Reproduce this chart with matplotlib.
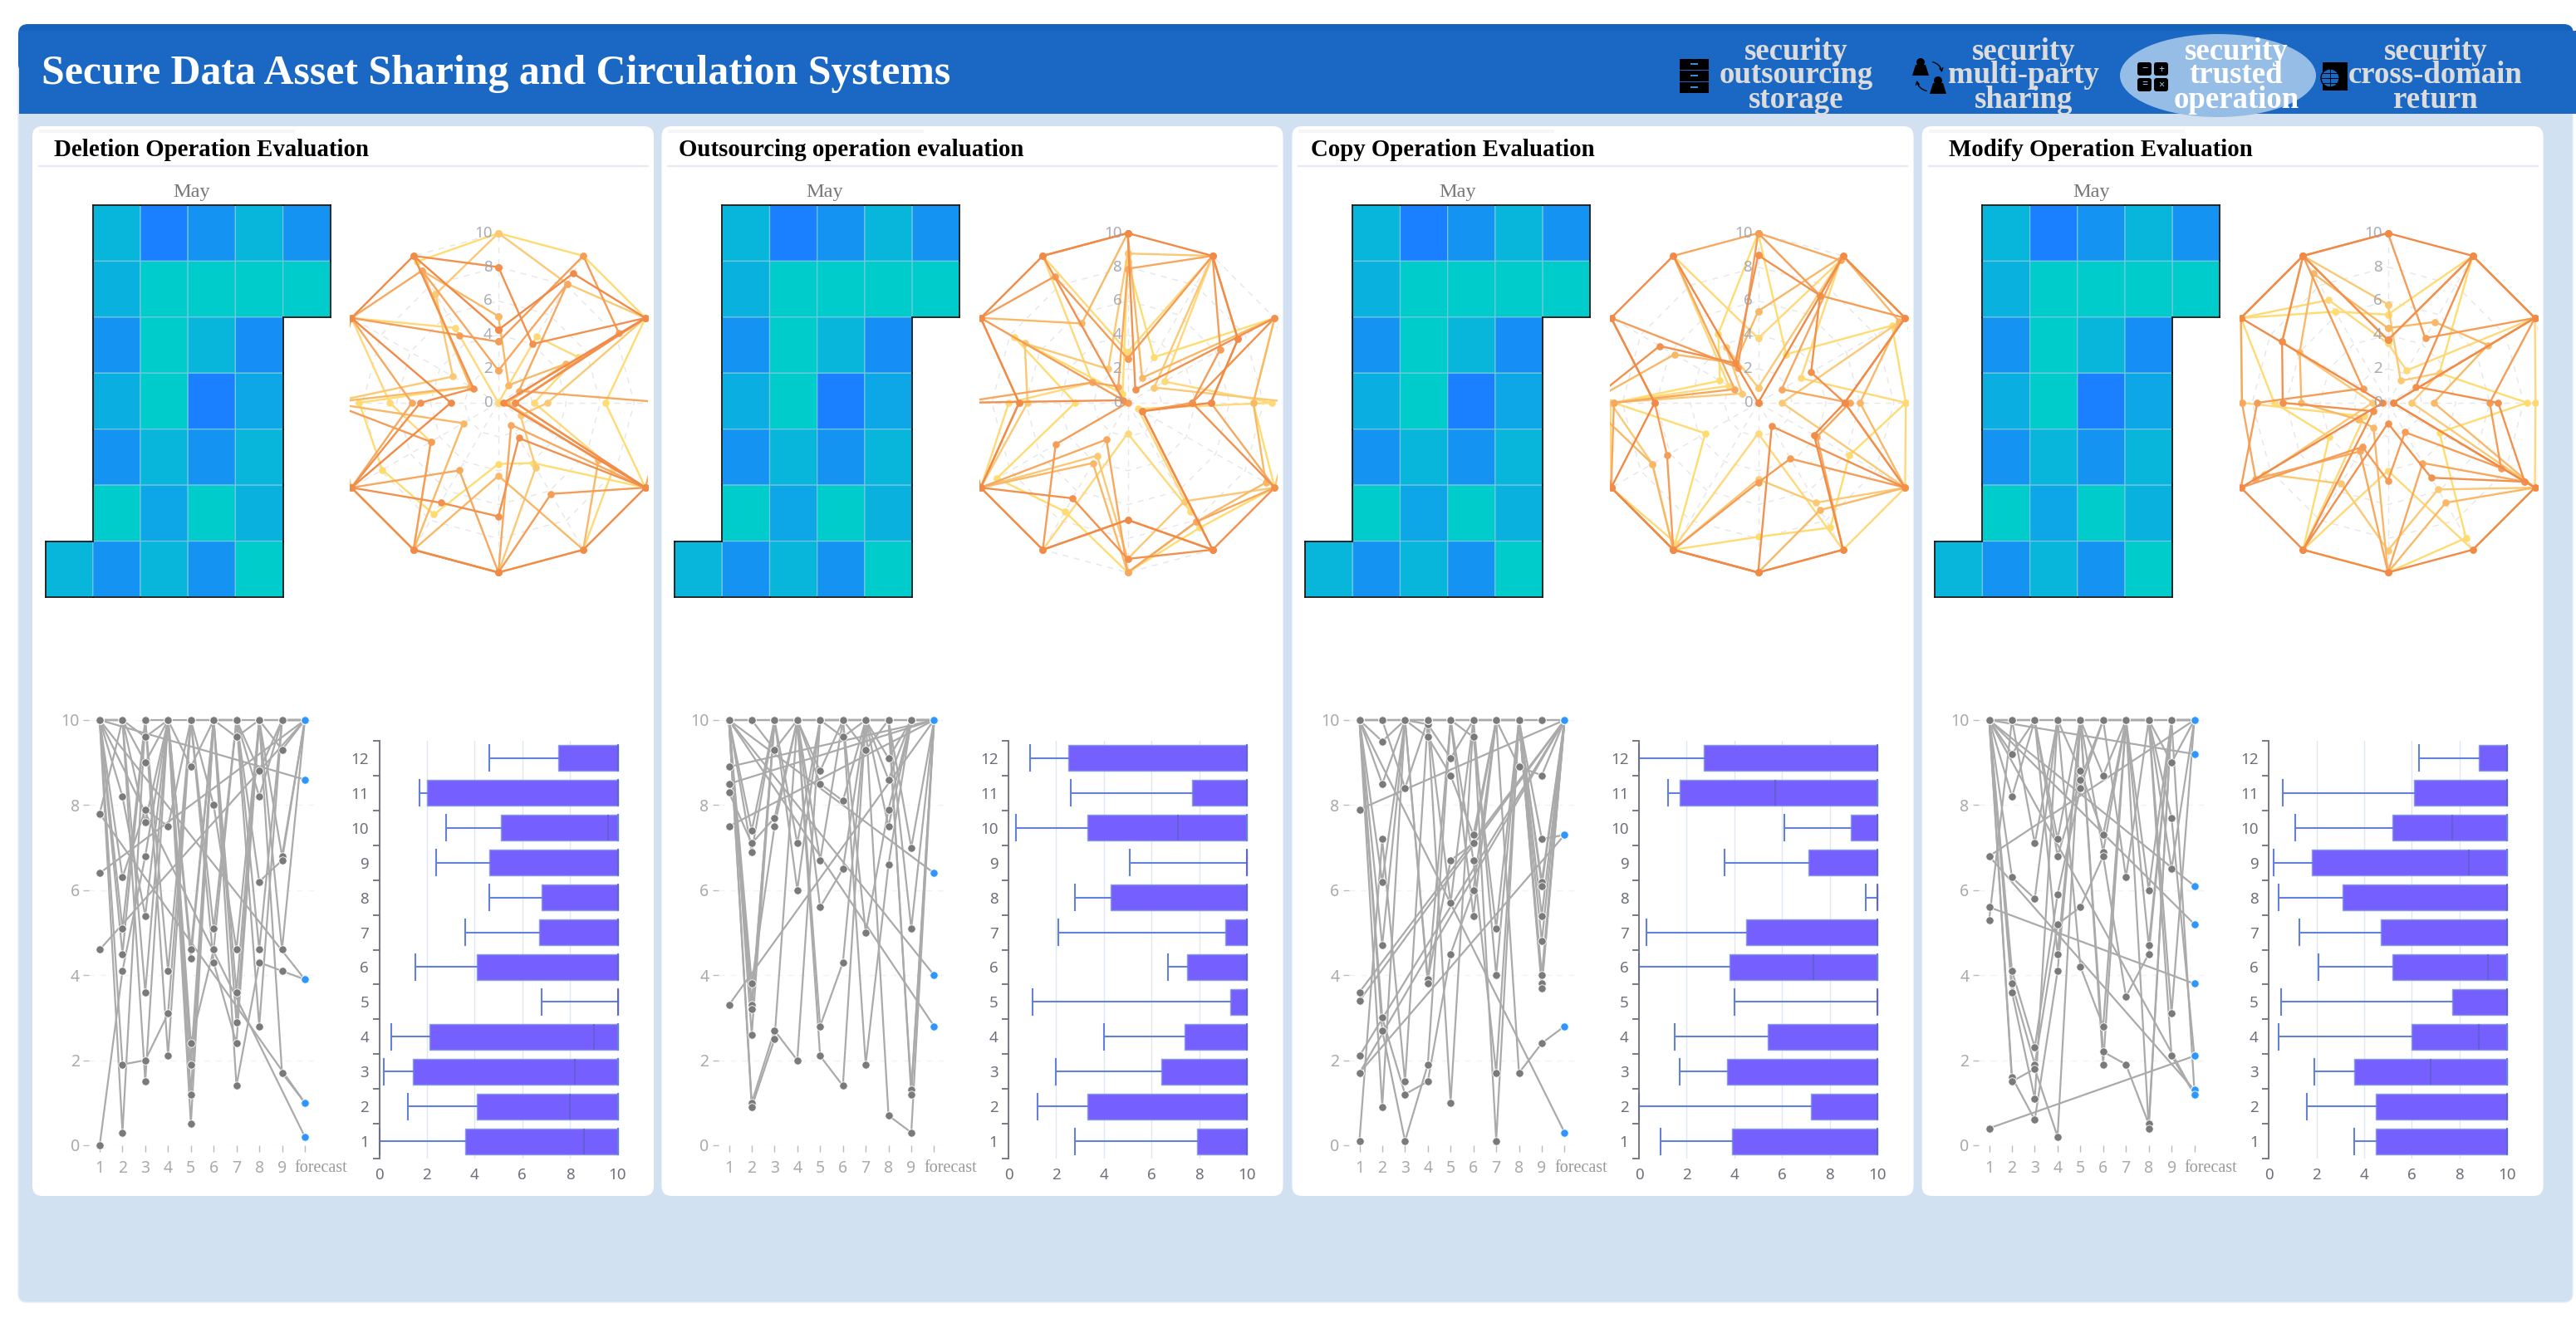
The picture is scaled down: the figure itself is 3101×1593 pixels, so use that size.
from __future__ import annotations

import matplotlib

matplotlib.use("Agg")
import matplotlib.pyplot as plt
import numpy as np
from matplotlib.colors import LinearSegmentedColormap
from matplotlib.patches import Circle, Ellipse, FancyArrowPatch, FancyBboxPatch, Polygon, Rectangle

W, H = 3101, 1593
SERIF = "Liberation Serif"
SANS = "Noto Sans"

TITLE = "Secure Data Asset Sharing and Circulation Systems"
NAV_LABELS = [
    ["security", "outsourcing", "storage"],
    ["security", "multi-party", "sharing"],
    ["security", "trusted", "operation"],
    ["security", "cross-domain", "return"],
]
PANEL_TITLES = [
    "Deletion Operation Evaluation",
    "Outsourcing operation evaluation",
    "Copy Operation Evaluation",
    "Modify Operation Evaluation",
]
MONTH = "May"
X_LABELS = ["1", "2", "3", "4", "5", "6", "7", "8", "9", "forecast"]
BOX_CATS = list(range(1, 13))

# calendar heat map, same in all four panels (0 = teal, 1 = blue)
nan = float("nan")
HEAT = [
    [nan, 0.30, 1.00, 0.75, 0.30, 0.75],
    [nan, 0.35, 0.00, 0.00, 0.00, 0.00],
    [nan, 0.75, 0.00, 0.30, 0.80, nan],
    [nan, 0.40, 0.00, 1.00, 0.50, nan],
    [nan, 0.75, 0.30, 0.75, 0.30, nan],
    [nan, 0.00, 0.50, 0.00, 0.35, nan],
    [0.30, 0.75, 0.30, 0.75, 0.00, nan],
]

# radar series, twelve axes clockwise from the top
RADAR_1 = [
    [10, 10, 10, 6.3, 10, 4.1, 3.6, 7.6, 7.9, 8.2, 1.9, 9.6],
    [0, 4.5, 5.4, 2.1, 7.8, 10, 10, 10, 4.6, 6.4, 10, 5.1],
    [10, 8.1, 10, 2.9, 1.5, 4.4, 10, 10, 10, 10, 3.1, 7.4],
    [5.1, 1.2, 4.6, 0.5, 6.8, 10, 4.3, 10, 2.4, 10, 1.9, 9.0],
    [1.9, 8.1, 1.4, 10, 10, 1.5, 10, 4.6, 10, 5.1, 10, 9.0],
    [3.6, 10, 8.2, 1.0, 10, 6.2, 10, 10, 4.6, 10, 10, 4.6],
    [8.0, 4.0, 10, 1.0, 10, 2.4, 6.7, 6.8, 10, 4.6, 1.7, 10],
    [4.3, 8.8, 10, 0.3, 10, 10, 10, 10, 10, 2.8, 10, 10],
]
RADAR_2 = [
    [8.3, 3.1, 10, 7.4, 10, 8.5, 10, 7.4, 8.9, 3.1, 7.7, 0.6],
    [3.0, 10, 2.5, 8.5, 0.7, 7.4, 1.8, 10, 10, 7.0, 2.4, 10],
    [8.8, 10, 1.8, 10, 10, 6.7, 9.2, 3.6, 10, 5.9, 7.0, 2.3],
    [10, 1.7, 10, 7.4, 9.4, 8.1, 10, 4.1, 10, 6.4, 10, 5.4],
    [7.9, 10, 7.5, 4.9, 10, 8.1, 10, 2.5, 10, 10, 2.4, 1.1],
    [2.6, 10, 6.3, 3.8, 1.0, 10, 6.9, 10, 4.9, 0, 10, 8.6],
    [10, 0.9, 10, 3.8, 10, 10, 9.2, 6.5, 10, 10, 0.3, 10],
    [10, 10, 7.5, 4.9, 1.0, 10, 6.9, 10, 10, 6.4, 10, 10],
]
RADAR_3 = [
    [10, 3.3, 9.1, 8.7, 6.2, 8.5, 7.9, 10, 3.6, 8.5, 2.6, 4.7],
    [3.8, 9.7, 2.9, 8.7, 10, 10, 1.8, 9.6, 10, 8.7, 2.0, 10],
    [0.9, 10, 10, 1.4, 10, 6.8, 4.5, 10, 7.2, 8.7, 1.1, 3.8],
    [5.4, 10, 9.6, 6.0, 10, 7.3, 10, 10, 7.2, 10, 5.7, 2.7],
    [10, 9.7, 1.6, 5.4, 4.0, 10, 10, 10, 10, 8.5, 1.6, 10],
    [10, 7.3, 10, 5.1, 10, 3.8, 4.7, 10, 6.2, 6.1, 10, 2.4],
    [8.7, 7.3, 3.6, 5.1, 10, 1.6, 10, 10, 10, 10, 6.7, 2.7],
    [0, 10, 10, 5.1, 3.8, 10, 10, 10, 10, 6.1, 10, 10],
]
RADAR_4 = [
    [5.2, 10, 3.5, 8.2, 3.5, 9.2, 10, 10, 4.0, 6.7, 10, 6.2],
    [3.5, 2.2, 10, 8.7, 10, 10, 4.0, 10, 1.6, 8.6, 10, 7.0],
    [5.8, 1.5, 3.5, 1.4, 10, 5.9, 8.7, 5.5, 8.4, 0.9, 7.2, 10],
    [4.4, 5.5, 6.8, 2.7, 10, 6.8, 10, 1.7, 2.0, 5.1, 6.0, 8.8],
    [3.7, 10, 10, 0.3, 9.3, 4.1, 10, 3.3, 9.0, 8.6, 10, 10],
    [10, 4.4, 10, 6.0, 7.7, 2.0, 4.6, 3.0, 10, 7.7, 1.7, 10],
    [3.7, 10, 1.9, 6.5, 9.3, 5.1, 1.2, 10, 1.0, 6.2, 7.2, 10],
    [10, 10, 10, 0.3, 10, 10, 10, 10, 10, 0.3, 10, 10],
]

# line chart: one list per x position, the i-th entry of each belongs to series i
LINE_COLS_1 = [
    [10, 7.8, 10, 10, 10, 10, 10, 0, 10, 10, 10, 10],
    [8.2, 10, 6.3, 10, 1.9, 4.5, 10, 4.1, 5.1, 10, 0.3, 10],
    [5.4, 9.6, 7.9, 9.0, 2.0, 10, 7.6, 6.8, 10, 3.6, 10, 1.5],
    [10, 10, 7.5, 10, 3.1, 4.1, 10, 10, 2.1, 10, 10, 10],
    [4.6, 1.2, 10, 8.9, 10, 10, 4.4, 2.4, 10, 1.9, 0.5, 10],
    [10, 10, 8.0, 10, 10, 5.1, 10, 4.6, 4.3, 10, 10, 10],
    [9.6, 10, 4.6, 10, 3.6, 10, 2.9, 10, 2.4, 1.4, 10, 10],
    [10, 8.8, 10, 8.2, 10, 6.2, 10, 4.6, 10, 4.3, 10, 2.8],
    [9.3, 10, 6.8, 10, 10, 6.7, 4.6, 10, 10, 4.1, 1.7, 10],
    [10, 10, 10, 10, 10, 10, 10, 10, 10, 3.9, 1.0, 10],
]
LINE_COLS_2 = [
    [10, 10, 8.3, 10, 10, 10, 10, 10, 10, 10, 10, 10],
    [7.4, 10, 7.1, 6.9, 3.8, 10, 3.3, 3.2, 2.6, 1.0, 0.9, 10],
    [10, 9.3, 7.7, 10, 7.5, 10, 10, 10, 10, 2.7, 2.5, 10],
    [7.1, 10, 10, 6.0, 10, 10, 10, 10, 10, 2.0, 10, 10],
    [10, 8.8, 8.5, 10, 6.7, 5.6, 10, 2.8, 10, 10, 2.1, 10],
    [9.6, 10, 8.1, 10, 10, 6.5, 10, 4.3, 10, 10, 1.4, 10],
    [10, 9.3, 10, 10, 5.0, 10, 10, 10, 1.9, 10, 10, 10],
    [9.1, 10, 8.6, 10, 7.9, 10, 7.5, 10, 6.6, 10, 0.7, 10],
    [10, 7.0, 10, 5.1, 10, 1.3, 10, 1.2, 10, 10, 0.3, 10],
    [10, 10, 10, 10, 10, 10, 10, 10, 10, 10, 10, 10],
]
LINE_COLS_3 = [
    [10, 10, 10, 0.1, 10, 10, 10, 10, 10, 10, 10, 10],
    [9.5, 10, 8.5, 7.2, 10, 6.2, 4.7, 3.0, 10, 2.7, 0.9, 10],
    [10, 8.4, 10, 1.5, 10, 10, 10, 1.2, 10, 0.1, 10, 10],
    [9.9, 10, 9.6, 10, 3.9, 10, 3.8, 1.5, 10, 1.9, 10, 10],
    [9.1, 10, 8.7, 10, 6.7, 5.7, 10, 4.5, 10, 10, 1.0, 10],
    [10, 9.6, 7.3, 10, 7.1, 10, 6.7, 6.0, 10, 5.4, 10, 10],
    [10, 5.1, 10, 4.0, 10, 10, 1.7, 10, 0.1, 10, 10, 10],
    [8.9, 10, 10, 10, 10, 1.7, 10, 10, 10, 10, 10, 10],
    [8.7, 7.2, 6.2, 6.1, 5.4, 2.4, 4.8, 4.0, 3.8, 3.7, 10, 10],
    [10, 7.3, 10, 10, 10, 2.8, 10, 10, 10, 10, 10, 10],
]
LINE_COLS_4 = [
    [10, 5.3, 10, 10, 10, 10, 10, 10, 10, 10, 10, 10],
    [9.2, 10, 8.2, 6.3, 4.1, 3.8, 10, 3.6, 1.6, 1.5, 10, 10],
    [10, 7.1, 10, 5.8, 2.3, 1.9, 10, 1.1, 0.6, 1.8, 10, 10],
    [7.2, 10, 6.8, 10, 5.9, 5.2, 4.5, 10, 4.1, 0.2, 10, 10],
    [10, 8.8, 8.6, 10, 8.4, 5.6, 10, 4.2, 10, 10, 10, 10],
    [8.7, 7.3, 10, 6.9, 10, 6.8, 10, 2.8, 2.2, 1.9, 10, 10],
    [10, 10, 6.3, 10, 10, 3.5, 10, 10, 1.9, 10, 10, 10],
    [10, 6.0, 10, 4.7, 10, 4.5, 10, 10, 0.5, 0.4, 10, 10],
    [9.0, 10, 7.7, 10, 6.5, 10, 3.1, 2.1, 10, 10, 10, 10],
    [10, 10, 2.1, 1.3, 10, 10, 10, 1.2, 10, 10, 10, 10],
]

# series that run straight from the first position to forecast
BRIDGE_START_1 = [10, 10, 7.8, 10, 6.4, 4.6]
BRIDGE_END_1 = [8.6, 3.9, 1.0, 0.2, 10, 10]
BRIDGE_START_2 = [8.9, 8.5, 7.5, 3.3, 10, 10, 10]
BRIDGE_END_2 = [10, 10, 10, 10, 6.4, 4.0, 2.8]
BRIDGE_START_3 = [7.9, 3.6, 3.4, 2.1, 1.7, 1.7, 10]
BRIDGE_END_3 = [10, 10, 10, 10, 10, 7.3, 0.3]
BRIDGE_START_4 = [10, 10, 10, 6.8, 5.6, 0.4, 6.8, 10]
BRIDGE_END_4 = [9.2, 6.1, 5.2, 10, 3.8, 2.1, 1.3, 1.2]

# box plots, categories 1 to 12 (upper quartile and max are always 10)
BOX_LOW_1 = [0, 1.2, 0.2, 0.5, 6.8, 1.5, 3.6, 4.6, 2.4, 2.8, 1.7, 4.6]
BOX_Q1_1 = [3.6, 4.1, 1.4, 2.1, 10, 4.1, 6.7, 6.8, 4.6, 5.1, 2.0, 7.5]
BOX_MED_1 = [8.6, 8.0, 8.2, 9.0, 10, 10, 10, 10, 10, 9.6, 10, 10]
BOX_LOW_2 = [2.8, 1.2, 2.0, 4.0, 1.0, 6.7, 2.1, 2.8, 5.1, 0.3, 2.6, 0.9]
BOX_Q1_2 = [7.9, 3.3, 6.4, 7.4, 9.3, 7.5, 9.1, 4.3, 10, 3.3, 7.7, 2.5]
BOX_MED_2 = [10, 10, 10, 10, 10, 10, 10, 10, 10, 7.1, 10, 10]
BOX_LOW_3 = [0.9, 0, 1.7, 1.5, 4.0, 0, 0.3, 9.5, 3.6, 6.1, 1.2, 0]
BOX_Q1_3 = [3.9, 7.2, 3.7, 5.4, 10, 3.8, 4.5, 10, 7.1, 8.9, 1.7, 2.7]
BOX_MED_3 = [10, 10, 10, 10, 10, 7.3, 10, 10, 10, 10, 5.7, 10]
BOX_LOW_4 = [3.6, 1.6, 1.9, 0.4, 0.5, 2.1, 1.3, 0.4, 0.2, 1.1, 0.6, 6.3]
BOX_Q1_4 = [4.5, 4.5, 3.6, 6.0, 7.7, 5.2, 4.7, 3.1, 1.8, 5.2, 6.1, 8.8]
BOX_MED_4 = [10, 10, 6.8, 8.8, 10, 9.2, 10, 10, 8.4, 7.7, 10, 10]

PANEL_OFFSETS = [0, 757.5, 1516.5, 2274.6]
RADAR_COLORS = ["#FFDC70", "#FFD878", "#FBC874", "#F9B866", "#F7A85E", "#F59C56", "#F2914E", "#F18A47"]
GRAY_TEXT = "#AAAAAA"


def px_axes(fig, left, top, right, bottom):
    ax = fig.add_axes([left / W, 1 - bottom / H, (right - left) / W, (bottom - top) / H])
    ax.patch.set_alpha(0)
    return ax


def draw_frame(bg):
    bg.add_patch(FancyBboxPatch((22, 30), 3075, 1538, boxstyle="round,pad=0,rounding_size=10", fc="#D2E1F1", ec="#E4ECF5", lw=1))
    bg.add_patch(FancyBboxPatch((22, 29), 3076, 60, boxstyle="round,pad=0,rounding_size=12", fc="#1562BC", ec="none"))
    bg.add_patch(Rectangle((23, 37), 3078, 100, fc="#1A68C4", ec="none"))
    bg.text(50, 89, TITLE, color="white", fontsize=35.8, fontweight="bold", family=SERIF, ha="left", va="center")
    bg.add_patch(Ellipse((2670, 91), 236, 100, fc="#95BDE5", ec="none"))
    for labels, cx, color in zip(NAV_LABELS, [2162, 2436, 2692, 2932], ["#DCDCDC", "#DCDCDC", "white", "#DCDCDC"]):
        for text, y in zip(labels, [62, 91, 121]):
            bg.text(cx, y, text, color=color, fontsize=26.5, fontweight="bold", family=SERIF, ha="center", va="center")


def draw_icons(bg):
    # filing cabinet
    for y in [71, 85, 99]:
        bg.add_patch(Rectangle((2022, y), 35, 12.5, fc="black", ec="none"))
        bg.add_patch(Rectangle((2035, y + 5), 9, 2, fc="#3C8CD8", ec="none"))
    # two people and arrows
    for x, y in [(2312, 70), (2333, 92)]:
        bg.add_patch(Circle((x, y + 5), 5, fc="black", ec="none"))
        bg.add_patch(Polygon([(x - 10, y + 21), (x - 6, y + 8), (x + 6, y + 8), (x + 10, y + 21)], fc="black", ec="none"))
    bg.add_patch(FancyArrowPatch((2324, 74), (2338, 90), connectionstyle="arc3,rad=-0.4", arrowstyle="->", mutation_scale=7, lw=1, color="black"))
    bg.add_patch(FancyArrowPatch((2322, 110), (2307, 94), connectionstyle="arc3,rad=-0.4", arrowstyle="->", mutation_scale=7, lw=1, color="black"))
    # calculator
    for x, y, sign in [(2573, 75, "−"), (2593, 75, "+"), (2573, 94, "="), (2593, 94, "×")]:
        bg.add_patch(FancyBboxPatch((x, y), 17, 16, boxstyle="round,pad=0,rounding_size=3", fc="black", ec="none"))
        bg.text(x + 8.5, y + 8, sign, color="#9FC4E8", fontsize=9, ha="center", va="center", family=SANS)
    # book with globe
    bg.add_patch(Rectangle((2796, 75), 30, 34, fc="black", ec="none"))
    bg.add_patch(Circle((2805, 94), 11, fc="#1A68C4", ec="black", lw=1))
    for y in [88, 94, 100]:
        bg.plot([2795, 2815], [y, y], color="black", lw=0.7)
    bg.plot([2805, 2805], [83, 105], color="black", lw=0.7)


def draw_panel_base(bg, dx, title, title_x, month_x):
    bg.add_patch(FancyBboxPatch((39 + dx, 152), 748, 1288, boxstyle="round,pad=0,rounding_size=12", fc="white", ec="none"))
    bg.add_patch(Rectangle((47 + dx, 156), 308, 4, fc="#F6F6F6", ec="none"))
    bg.plot([47 + dx, 780 + dx], [200, 200], color="#E6E8F2", lw=1.6)
    bg.text(title_x, 181, title, color="black", fontsize=20.8, fontweight="bold", family=SERIF, ha="left", va="center")
    bg.text(month_x, 231, MONTH, color="#777777", fontsize=17.5, family=SERIF, ha="center", va="center")


def draw_heat(fig, dx, cmap):
    ax = px_axes(fig, 54.6 + dx, 247, 397.8 + dx, 719)
    values = np.ma.masked_invalid(np.array(HEAT))
    ax.pcolor(values, cmap=cmap, vmin=0, vmax=1, edgecolors="#6FC8DC", linewidth=0.9)
    ax.set_ylim(len(HEAT), 0)
    ax.axis("off")
    filled = ~values.mask
    rows, cols = filled.shape
    style = {"color": "#1A1A1A", "lw": 1.3, "clip_on": False, "solid_capstyle": "projecting"}
    for r in range(rows):
        for c in range(cols):
            if not filled[r, c]:
                continue
            if r == 0 or not filled[r - 1, c]:
                ax.plot([c, c + 1], [r, r], **style)
            if r == rows - 1 or not filled[r + 1, c]:
                ax.plot([c, c + 1], [r + 1, r + 1], **style)
            if c == 0 or not filled[r, c - 1]:
                ax.plot([c, c], [r, r + 1], **style)
            if c == cols - 1 or not filled[r, c + 1]:
                ax.plot([c + 1, c + 1], [r, r + 1], **style)


def draw_radar(fig, dx, series):
    cx, cy, radius = 600 + dx, 485, 204.3
    left, right = 421 + dx, 780 + dx
    top, bottom = 270, 700
    ax = px_axes(fig, left, top, right, bottom)
    unit = radius / 10
    ax.set_xlim((left - cx) / unit, (right - cx) / unit)
    ax.set_ylim((bottom - cy) / -unit, (top - cy) / -unit)
    ax.axis("off")
    angles = np.deg2rad(np.arange(12) * 30)
    for r in [2, 4, 6, 8, 10]:
        ax.plot(r * np.sin(np.r_[angles, 0]), r * np.cos(np.r_[angles, 0]), color="#E6E6E6", lw=1, ls=(0, (5, 5)))
    for a in angles:
        ax.plot([0, 10 * np.sin(a)], [0, 10 * np.cos(a)], color="#E6E6E6", lw=1, ls=(0, (5, 5)))
    for values, color in zip(series, RADAR_COLORS):
        vals = np.array(values + values[:1], dtype=float)
        ang = np.r_[angles, 0]
        ax.plot(vals * np.sin(ang), vals * np.cos(ang), color=color, lw=1.7, marker="o", ms=6.2, mew=0)
    for r in [0, 2, 4, 6, 8, 10]:
        ax.text(-0.35, r, str(r), color="#9A9FA8", alpha=0.85, fontsize=13.5, family=SANS, ha="right", va="center")


def draw_lines(fig, dx, cols, bridge_start, bridge_end):
    x0, step = 120 + dx, 27.44
    left, right = 107 + dx, 382 + dx
    ax = px_axes(fig, left, 867, right, 1379)
    ax.set_xlim((left - x0) / step, (right - x0) / step)
    ax.set_ylim(0, 10)
    x = np.arange(len(X_LABELS))
    for start, end in zip(bridge_start, bridge_end):
        ax.plot([x[0], x[-1]], [start, end], color="#AAAAAA", lw=1.6, clip_on=False, zorder=2)
    for series in zip(*cols):
        ax.plot(x, series, color="#AAAAAA", lw=1.6, clip_on=False, zorder=2)
    for column, xpos in zip(cols, x):
        ax.scatter([xpos] * len(column), column, s=46, color="#7A7A7A", edgecolors="white", linewidths=0.6, clip_on=False, zorder=3)
    ends = list(cols[-1]) + list(bridge_end)
    ax.scatter([x[-1]] * len(ends), ends, s=46, color="#2D96FF", edgecolors="white", linewidths=0.6, clip_on=False, zorder=4)
    starts = list(bridge_start)
    ax.scatter([x[0]] * len(starts), starts, s=46, color="#7A7A7A", edgecolors="white", linewidths=0.6, clip_on=False, zorder=3)

    for side in ax.spines.values():
        side.set_visible(False)
    ax.set_yticks([0, 2, 4, 6, 8, 10])
    ax.set_xticks(x, X_LABELS[:-1] + [""])
    ax.tick_params(axis="y", length=5, width=1, color="#BBBBBB", labelcolor=GRAY_TEXT, labelsize=14, pad=3)
    ax.tick_params(axis="x", length=6, width=1, color="#BBBBBB", labelcolor=GRAY_TEXT, labelsize=14, pad=7)
    for label in ax.get_xticklabels() + ax.get_yticklabels():
        label.set_family(SANS)
    ax.grid(axis="y", color="#F2F2F2", lw=1, ls=(0, (5, 5)))
    ax.set_axisbelow(True)
    ax.annotate(X_LABELS[-1], (x[-1], 0), xytext=(14, -20), textcoords="offset points", color="#999999", fontsize=14.5, family=SERIF, ha="center", va="center", annotation_clip=False)


def draw_boxes(fig, dx, low, q1, med):
    ax = px_axes(fig, 456.6 + dx, 892, 743.5 + dx, 1395)
    stats = [
        {"whislo": lo, "q1": q, "med": m, "q3": 10, "whishi": 10, "fliers": [], "label": str(cat)}
        for lo, q, m, cat in zip(low, q1, med, BOX_CATS)
    ]
    ax.bxp(
        stats,
        positions=BOX_CATS,
        widths=0.74,
        capwidths=0.74,
        orientation="horizontal",
        patch_artist=True,
        showfliers=False,
        manage_ticks=False,
        boxprops={"facecolor": "#7560FF", "edgecolor": "#8A9BE8", "linewidth": 1, "clip_on": False},
        medianprops={"color": "#5D5FC8", "linewidth": 1.1, "clip_on": False},
        whiskerprops={"color": "#6280DC", "linewidth": 1.5, "clip_on": False},
        capprops={"color": "#6280DC", "linewidth": 1.5, "clip_on": False},
    )
    ax.set_xlim(0, 10)
    ax.set_ylim(0.5, 12.5)
    ax.set_xticks([0, 2, 4, 6, 8, 10])
    ax.set_yticks(BOX_CATS, [str(c) for c in BOX_CATS])
    ax.set_yticks(np.arange(0.5, 13), minor=True)
    ax.tick_params(axis="y", which="minor", length=6, width=1.3, color="#6E7079")
    ax.tick_params(axis="y", which="major", length=0, labelcolor="#6E7079", labelsize=13.5, pad=9)
    ax.tick_params(axis="x", length=0, labelcolor="#6E7079", labelsize=13.5, pad=8)
    for label in ax.get_xticklabels() + ax.get_yticklabels():
        label.set_family(SANS)
    for name in ["top", "right", "bottom"]:
        ax.spines[name].set_visible(False)
    ax.spines["left"].set_color("#6E7079")
    ax.spines["left"].set_linewidth(1.3)
    ax.grid(axis="x", color="#E0E6F1", lw=1)
    ax.set_axisbelow(True)


def main() -> None:
    fig = plt.figure(figsize=(W / 100, H / 100), dpi=100, facecolor="white")
    bg = fig.add_axes([0, 0, 1, 1])
    bg.set_xlim(0, W)
    bg.set_ylim(H, 0)
    bg.axis("off")

    draw_frame(bg)
    draw_icons(bg)

    cmap = LinearSegmentedColormap.from_list("heat", ["#00CCCC", "#1A80FF"])
    radars = [RADAR_1, RADAR_2, RADAR_3, RADAR_4]
    lines = [LINE_COLS_1, LINE_COLS_2, LINE_COLS_3, LINE_COLS_4]
    bridges = [
        (BRIDGE_START_1, BRIDGE_END_1),
        (BRIDGE_START_2, BRIDGE_END_2),
        (BRIDGE_START_3, BRIDGE_END_3),
        (BRIDGE_START_4, BRIDGE_END_4),
    ]
    boxes = [
        (BOX_LOW_1, BOX_Q1_1, BOX_MED_1),
        (BOX_LOW_2, BOX_Q1_2, BOX_MED_2),
        (BOX_LOW_3, BOX_Q1_3, BOX_MED_3),
        (BOX_LOW_4, BOX_Q1_4, BOX_MED_4),
    ]
    title_xs = [65, 817, 1578, 2346]
    month_xs = [231, 993, 1755, 2518]
    for i, dx in enumerate(PANEL_OFFSETS):
        draw_panel_base(bg, dx, PANEL_TITLES[i], title_xs[i], month_xs[i])
        draw_heat(fig, dx, cmap)
        draw_radar(fig, dx, radars[i])
        draw_lines(fig, dx, lines[i], *bridges[i])
        draw_boxes(fig, dx, *boxes[i])

    fig.savefig("out.png", dpi=100, facecolor="white")
    plt.close(fig)


if __name__ == "__main__":
    main()
